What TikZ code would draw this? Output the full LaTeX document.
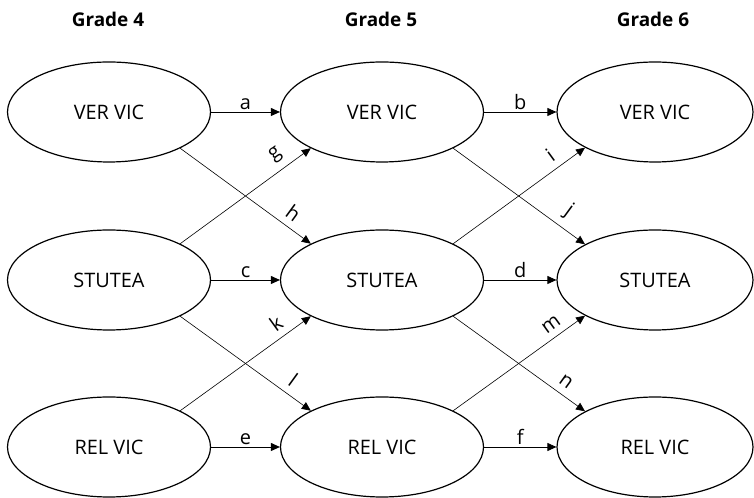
\documentclass[tikz,border=0pt]{standalone}
\usepackage{fontspec}
\setmainfont{Open Sans}
\usetikzlibrary{shapes.geometric,arrows.meta}
\begin{document}
\begin{tikzpicture}[x=1bp,y=1bp,
  state/.style={ellipse,draw,line width=1.2bp,minimum width=203bp,minimum height=100bp,inner sep=0pt,font=\fontsize{20}{24}\selectfont},
  title/.style={font=\fontsize{19}{23}\selectfont\bfseries},
  harr/.style={line width=0.9bp,-{Triangle[length=9bp,width=8bp]}},
  darr/.style={line width=0.6bp,-{Triangle[length=9bp,width=8bp]}},
  lab/.style={font=\fontsize{20}{24}\selectfont,inner sep=2bp},
  dlab/.style={lab,sloped,above=5bp}]
\useasboundingbox (0,0) rectangle (754,498);
\node[title] (t4) at (108,479) {Grade 4};
\node[title] (t5) at (381,479) {Grade 5};
\node[title] (t6) at (653,479) {Grade 6};
\node[state] (v4) at (109,386) {VER VIC};
\node[state] (s4) at (109,218) {STUTEA};
\node[state] (r4) at (109,51) {REL VIC};
\node[state] (v5) at (382,386) {VER VIC};
\node[state] (s5) at (382,218) {STUTEA};
\node[state] (r5) at (382,51) {REL VIC};
\node[state,minimum width=196bp] (v6) at (655,386) {VER VIC};
\node[state,minimum width=196bp] (s6) at (655,218) {STUTEA};
\node[state,minimum width=196bp] (r6) at (655,51) {REL VIC};
% horizontal
\draw[harr] (v4.east) -- node[lab,above] {a} (v5.west);
\draw[harr] (v5.east) -- node[lab,above] {b} (v6.west);
\draw[harr] (s4.east) -- node[lab,above] {c} (s5.west);
\draw[harr] (s5.east) -- node[lab,above] {d} (s6.west);
\draw[harr] (r4.east) -- node[lab,above] {e} (r5.west);
\draw[harr] (r5.east) -- node[lab,above] {f} (r6.west);
% diagonals
\draw[darr] (s4.27) -- node[dlab,pos=0.8] {g} (v5.207);
\draw[darr] (v4.-27) -- node[dlab,pos=0.8] {h} (s5.153);
\draw[darr] (s5.27) -- node[dlab,pos=0.8] {i} (v6.207);
\draw[darr] (v5.-27) -- node[dlab,pos=0.8] {j} (s6.153);
\draw[darr] (r4.27) -- node[dlab,pos=0.8] {k} (s5.207);
\draw[darr] (s4.-27) -- node[dlab,pos=0.8] {l} (r5.153);
\draw[darr] (r5.27) -- node[dlab,pos=0.8] {m} (s6.207);
\draw[darr] (s5.-27) -- node[dlab,pos=0.8] {n} (r6.153);
\end{tikzpicture}
\end{document}
